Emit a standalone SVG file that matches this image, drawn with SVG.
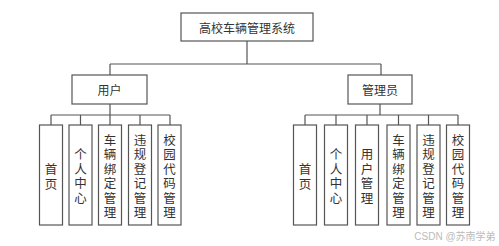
<svg xmlns="http://www.w3.org/2000/svg" width="499" height="246" viewBox="0 0 499 246">
<style>
rect{fill:#fff;stroke:#555;stroke-width:1.2}
.c path{fill:none;stroke:#555;stroke-width:1.2}
text{font-family:"Noto Sans CJK SC","Noto Sans CJK JP",sans-serif;fill:#333;font-size:12px;text-anchor:middle;dominant-baseline:central}
.v{font-size:12.5px}
.wm{font-family:"Liberation Sans","Noto Sans CJK SC",sans-serif;font-size:10px;fill:#bbb}
</style>
<rect width="499" height="246" style="fill:#fff;stroke:none"/>
<g class="c" id="connectors">
<path d="M247 41V64M110 64H381M110 64V75M381 64V75"/>
<path d="M110 104V115M51 115H170M51 115V125M80.5 115V125M110 115V125M140 115V125M170 115V125"/>
<path d="M380 104V115M305 115H458M305 115V125M336 115V125M367 115V125M398.5 115V125M428.5 115V125M458 115V125"/>
</g>
<g id="root"><rect x="181" y="13" width="132" height="28"/><text x="247" y="27">高校车辆管理系统</text></g>
<g id="user"><rect x="72" y="75" width="75" height="29"/><text x="109.5" y="89.5">用户</text></g>
<g id="admin"><rect x="348" y="75" width="64" height="29"/><text x="380" y="89.5">管理员</text></g>
<g id="u1"><rect x="39.5" y="125" width="23" height="100"/><text class="v" x="51"><tspan x="51" y="167.5">首</tspan><tspan x="51" y="182.5">页</tspan></text></g>
<g id="u2"><rect x="69" y="125" width="23" height="100"/><text class="v" x="80.5"><tspan x="80.5" y="153">个</tspan><tspan x="80.5" y="167.5">人</tspan><tspan x="80.5" y="182">中</tspan><tspan x="80.5" y="196.5">心</tspan></text></g>
<g id="u3"><rect x="98.5" y="125" width="23" height="100"/><text class="v"><tspan x="110" y="138.5">车</tspan><tspan x="110" y="153">辆</tspan><tspan x="110" y="167.5">绑</tspan><tspan x="110" y="182">定</tspan><tspan x="110" y="196.5">管</tspan><tspan x="110" y="211">理</tspan></text></g>
<g id="u4"><rect x="128.5" y="125" width="23" height="100"/><text class="v"><tspan x="140" y="138.5">违</tspan><tspan x="140" y="153">规</tspan><tspan x="140" y="167.5">登</tspan><tspan x="140" y="182">记</tspan><tspan x="140" y="196.5">管</tspan><tspan x="140" y="211">理</tspan></text></g>
<g id="u5"><rect x="158" y="125" width="23" height="100"/><text class="v"><tspan x="169.5" y="138.5">校</tspan><tspan x="169.5" y="153">园</tspan><tspan x="169.5" y="167.5">代</tspan><tspan x="169.5" y="182">码</tspan><tspan x="169.5" y="196.5">管</tspan><tspan x="169.5" y="211">理</tspan></text></g>
<g id="a1"><rect x="293.5" y="125" width="23" height="100"/><text class="v"><tspan x="305" y="167.5">首</tspan><tspan x="305" y="182.5">页</tspan></text></g>
<g id="a2"><rect x="324.5" y="125" width="23" height="100"/><text class="v"><tspan x="336" y="153">个</tspan><tspan x="336" y="167.5">人</tspan><tspan x="336" y="182">中</tspan><tspan x="336" y="196.5">心</tspan></text></g>
<g id="a3"><rect x="355.5" y="125" width="23" height="100"/><text class="v"><tspan x="367" y="153">用</tspan><tspan x="367" y="167.5">户</tspan><tspan x="367" y="182">管</tspan><tspan x="367" y="196.5">理</tspan></text></g>
<g id="a4"><rect x="387" y="125" width="23" height="100"/><text class="v"><tspan x="398.5" y="138.5">车</tspan><tspan x="398.5" y="153">辆</tspan><tspan x="398.5" y="167.5">绑</tspan><tspan x="398.5" y="182">定</tspan><tspan x="398.5" y="196.5">管</tspan><tspan x="398.5" y="211">理</tspan></text></g>
<g id="a5"><rect x="417" y="125" width="23" height="100"/><text class="v"><tspan x="428.5" y="138.5">违</tspan><tspan x="428.5" y="153">规</tspan><tspan x="428.5" y="167.5">登</tspan><tspan x="428.5" y="182">记</tspan><tspan x="428.5" y="196.5">管</tspan><tspan x="428.5" y="211">理</tspan></text></g>
<g id="a6"><rect x="446.5" y="125" width="23" height="100"/><text class="v"><tspan x="458" y="138.5">校</tspan><tspan x="458" y="153">园</tspan><tspan x="458" y="167.5">代</tspan><tspan x="458" y="182">码</tspan><tspan x="458" y="196.5">管</tspan><tspan x="458" y="211">理</tspan></text></g>
<text class="wm" x="455" y="236">CSDN @苏南学弟</text>
</svg>
